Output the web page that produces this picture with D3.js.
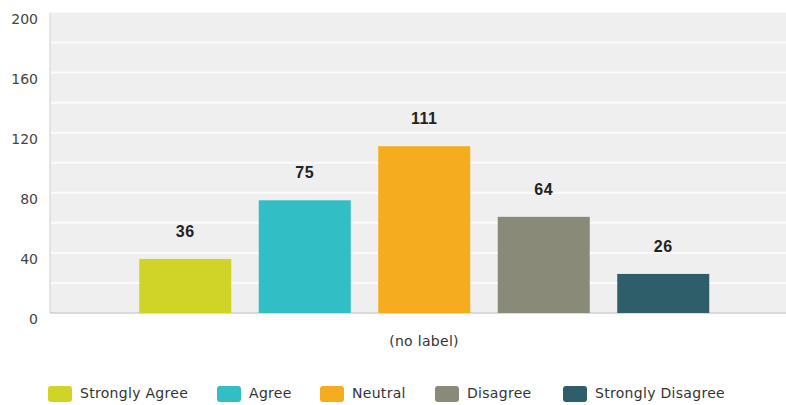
<!DOCTYPE html>
<html><head><meta charset="utf-8">
<script src="https://cdn.jsdelivr.net/npm/d3@7"></script>
<style>body{margin:0;background:#fff;}svg{display:block;font-family:"DejaVu Sans",Verdana,sans-serif;}</style>
</head><body>
<svg id="c" width="786" height="405"></svg>
<script>
const categories = ["Strongly Agree","Agree","Neutral","Disagree","Strongly Disagree"];
const values = [36,75,111,64,26];
const colors = ["#cfd426","#31bec4","#f5ac1f","#8a8a79","#2e5e6a"];
const yTicks = [0,40,80,120,160,200];
const gridTicks = [0,20,40,60,80,100,120,140,160,180,200];
const xLabel = "(no label)";

const svg = d3.select("#c");
const plotL = 50, plotR = 786, plotT = 12.5, plotB = 313;
const y = d3.scaleLinear().domain([0,200]).range([plotB, plotT]);
const x = d3.scaleBand().domain(categories).range([125.5, 723]).paddingInner(0.23).paddingOuter(0.115);

svg.append("rect").attr("x", plotL).attr("y", plotT).attr("width", plotR-plotL).attr("height", plotB-plotT).attr("fill", "#efefef");
svg.selectAll("line.grid").data(gridTicks.filter(d=>d>0 && d<200)).join("line")
  .attr("x1", plotL).attr("x2", plotR).attr("y1", d=>y(d)).attr("y2", d=>y(d))
  .attr("stroke", "#fbfbfb").attr("stroke-width", 2);
svg.append("line").attr("x1", plotL).attr("x2", plotL).attr("y1", plotT).attr("y2", plotB).attr("stroke", "#dcdcdc").attr("stroke-width", 1.5);
svg.append("line").attr("x1", plotL).attr("x2", plotR).attr("y1", plotB).attr("y2", plotB).attr("stroke", "#cfcfcf").attr("stroke-width", 1.5);

svg.selectAll("text.yt").data(yTicks).join("text")
  .attr("x", 38).attr("y", d=>y(d)+7).attr("text-anchor","end").attr("dominant-baseline","middle")
  .attr("font-size", 14).attr("fill", "#444").text(d=>d);

svg.selectAll("rect.bar").data(values).join("rect")
  .attr("x", (d,i)=>x(categories[i])).attr("width", x.bandwidth())
  .attr("y", d=>y(d)).attr("height", d=>plotB - y(d)).attr("fill", (d,i)=>colors[i]);

svg.selectAll("text.val").data(values).join("text")
  .attr("x", (d,i)=>x(categories[i]) + x.bandwidth()/2).attr("y", d=>y(d)-22)
  .attr("text-anchor","middle").attr("font-family", "'Liberation Sans',Arial,sans-serif")
  .attr("font-size", 16).attr("letter-spacing", 0.5).attr("font-weight","bold").attr("fill","#222").text(d=>d);

svg.append("text").attr("x", 424).attr("y", 346).attr("text-anchor","middle").attr("font-size", 14).attr("letter-spacing", 0.3).attr("fill","#333").text(xLabel);

const legendX = [48, 217, 320, 435, 563];
const lg = svg.selectAll("g.lg").data(categories).join("g").attr("transform", (d,i)=>`translate(${legendX[i]},386)`);
lg.append("rect").attr("width", 24).attr("height", 16).attr("rx", 3).attr("fill", (d,i)=>colors[i]);
lg.append("text").attr("x", 32).attr("y", 8).attr("dominant-baseline","middle").attr("font-size", 14).attr("letter-spacing", 0.3).attr("fill","#333").text(d=>d);
</script>
</body></html>
